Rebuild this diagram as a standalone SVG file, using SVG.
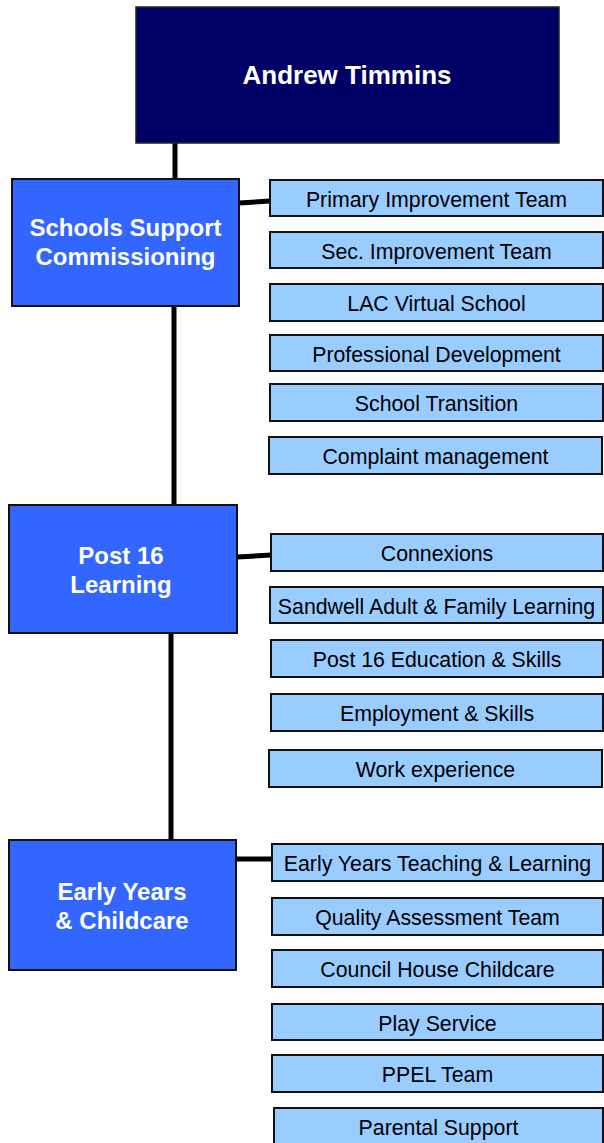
<svg xmlns="http://www.w3.org/2000/svg" width="604" height="1143" viewBox="0 0 604 1143">
<style>
.top{fill:#000066;stroke:#222;stroke-width:1.5}
.mid{fill:#3366FF;stroke:#111;stroke-width:2}
.leaf{fill:#99CCFF;stroke:#111;stroke-width:2}
.tb{font-family:"Liberation Sans",Arial,sans-serif;font-weight:bold;fill:#fff;text-anchor:middle}
.tl{font-family:"Liberation Sans",Arial,sans-serif;font-size:21.3px;fill:#000;text-anchor:middle}
.con{stroke:#000;stroke-width:5;fill:none}
</style>
<rect width="604" height="1143" fill="#fff"/>
<g id="connectors">
<line class="con" x1="175" y1="143" x2="175" y2="179"/>
<line class="con" x1="174" y1="306" x2="174" y2="505"/>
<line class="con" x1="171" y1="633" x2="171" y2="840"/>
<line class="con" x1="239" y1="203" x2="270" y2="201"/>
<line class="con" x1="237" y1="557" x2="271" y2="555"/>
<line class="con" x1="236" y1="859" x2="272" y2="859"/>
</g>
<g id="andrew-timmins"><rect class="top" x="136" y="7" width="423" height="136"/><text class="tb" x="347" y="84" font-size="26">Andrew Timmins</text></g>
<g id="schools-support"><rect class="mid" x="12" y="179" width="227" height="127"/><text class="tb" x="125.5" y="236" font-size="24">Schools Support</text><text class="tb" x="125.5" y="265" font-size="24">Commissioning</text></g>
<g id="post16"><rect class="mid" x="9" y="505" width="228" height="128"/><text class="tb" x="121" y="564" font-size="24">Post 16</text><text class="tb" x="121" y="593" font-size="24">Learning</text></g>
<g id="early-years"><rect class="mid" x="9" y="840" width="227" height="130"/><text class="tb" x="122" y="900" font-size="24">Early Years</text><text class="tb" x="122" y="929" font-size="24">&amp; Childcare</text></g>
<g id="primary"><rect class="leaf" x="270" y="180" width="333" height="36"/><text class="tl" x="436.5" y="207">Primary Improvement Team</text></g>
<g id="sec"><rect class="leaf" x="270" y="232" width="333" height="36"/><text class="tl" x="436.5" y="259">Sec. Improvement Team</text></g>
<g id="lac"><rect class="leaf" x="270" y="284" width="333" height="37"/><text class="tl" x="436.5" y="311">LAC Virtual School</text></g>
<g id="profdev"><rect class="leaf" x="270" y="335" width="333" height="36"/><text class="tl" x="436.5" y="362">Professional Development</text></g>
<g id="transition"><rect class="leaf" x="270" y="384" width="333" height="37"/><text class="tl" x="436.5" y="411">School Transition</text></g>
<g id="complaint"><rect class="leaf" x="269" y="437" width="333" height="37"/><text class="tl" x="435.5" y="464">Complaint management</text></g>
<g id="connexions"><rect class="leaf" x="271" y="534" width="332" height="37"/><text class="tl" x="437" y="561">Connexions</text></g>
<g id="sandwell"><rect class="leaf" x="270" y="587" width="333" height="36"/><text class="tl" x="436.5" y="614">Sandwell Adult &amp; Family Learning</text></g>
<g id="post16-edu"><rect class="leaf" x="271" y="640" width="332" height="37"/><text class="tl" x="437" y="667">Post 16 Education &amp; Skills</text></g>
<g id="employment"><rect class="leaf" x="271" y="694" width="332" height="37"/><text class="tl" x="437" y="721">Employment &amp; Skills</text></g>
<g id="work-exp"><rect class="leaf" x="269" y="750" width="333" height="37"/><text class="tl" x="435.5" y="777">Work experience</text></g>
<g id="eytl"><rect class="leaf" x="272" y="844" width="331" height="37"/><text class="tl" x="437.5" y="871">Early Years Teaching &amp; Learning</text></g>
<g id="qat"><rect class="leaf" x="272" y="898" width="331" height="37"/><text class="tl" x="437.5" y="925">Quality Assessment Team</text></g>
<g id="chc"><rect class="leaf" x="272" y="950" width="331" height="37"/><text class="tl" x="437.5" y="977">Council House Childcare</text></g>
<g id="play"><rect class="leaf" x="272" y="1004" width="331" height="36"/><text class="tl" x="437.5" y="1031">Play Service</text></g>
<g id="ppel"><rect class="leaf" x="272" y="1055" width="331" height="37"/><text class="tl" x="437.5" y="1082">PPEL Team</text></g>
<g id="parental"><rect class="leaf" x="274" y="1108" width="329" height="40"/><text class="tl" x="438.5" y="1135">Parental Support</text></g>
</svg>
